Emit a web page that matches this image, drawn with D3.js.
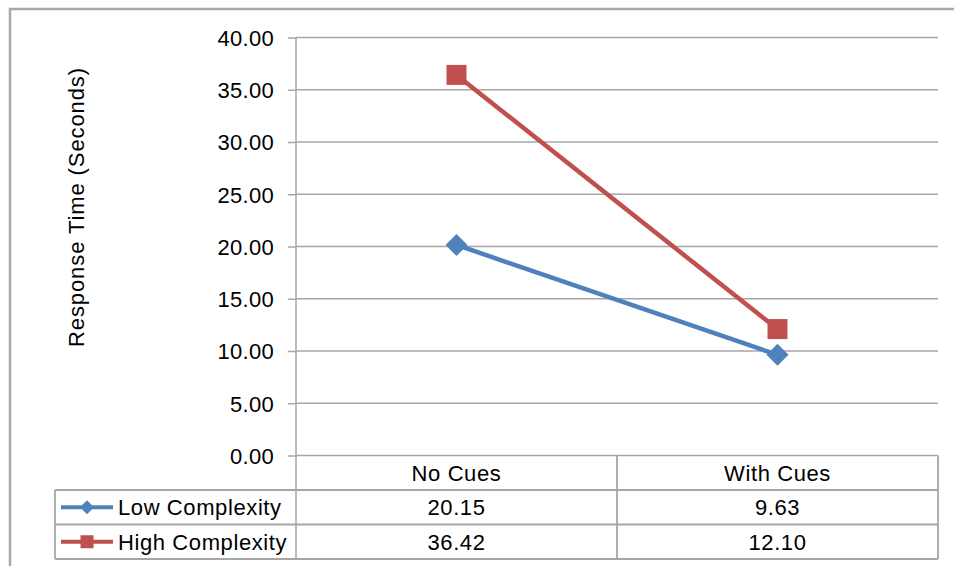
<!DOCTYPE html>
<html>
<head>
<meta charset="utf-8">
<script src="https://cdn.jsdelivr.net/npm/d3@7"></script>
<style>
  html, body { margin: 0; padding: 0; background: #fff; }
  svg { display: block; font-family: "Liberation Sans", Arial, sans-serif; }
  svg text { letter-spacing: 0.6px; }
</style>
</head>
<body>
<svg id="chart" width="954" height="566"></svg>
<script>
// Response times by cue condition and task complexity
const categories = ["No Cues", "With Cues"];
const seriesNames = ["Low Complexity", "High Complexity"];
const lowComplexity = [20.15, 9.63];
const highComplexity = [36.42, 12.10];
const yTicks = [0, 5, 10, 15, 20, 25, 30, 35, 40];
const yTitle = "Response Time (Seconds)";

const series = [
  { name: seriesNames[0], values: lowComplexity, color: "#4f81bd", shape: "diamond" },
  { name: seriesNames[1], values: highComplexity, color: "#c0504d", shape: "square" }
];

const svg = d3.select("#chart");
const gridColor = "#a6a6a6";
const fontSize = 22;

// Outer chart frame (extends past the visible window on right/bottom)
svg.append("rect")
  .attr("x", 10).attr("y", 9)
  .attr("width", 960).attr("height", 580)
  .attr("fill", "none").attr("stroke", "#a8a8a8").attr("stroke-width", 2.5);

const plotLeft = 296, plotRight = 938, plotTop = 37.5, plotBottom = 455.5;
const rowH = 34.5;
const legendLeft = 55;

const x = d3.scaleBand().domain(categories).range([plotLeft, plotRight]).padding(0);
const y = d3.scaleLinear().domain([0, 40]).range([plotBottom, plotTop]);

// Horizontal gridlines
svg.append("g").selectAll("line")
  .data(yTicks.filter(t => t > 0))
  .join("line")
  .attr("x1", plotLeft).attr("x2", plotRight)
  .attr("y1", d => y(d)).attr("y2", d => y(d))
  .attr("stroke", gridColor).attr("stroke-width", 1.5);

// Y axis
const yAxis = d3.axisLeft(y)
  .tickValues(yTicks)
  .tickFormat(d3.format(".2f"))
  .tickSize(8)
  .tickPadding(14);
const gy = svg.append("g").attr("transform", `translate(${plotLeft},0)`).call(yAxis);
gy.select(".domain").remove();
gy.selectAll(".tick line").attr("stroke", gridColor).attr("stroke-width", 1.5);
gy.selectAll(".tick text")
  .attr("fill", "#000")
  .style("font-size", fontSize + "px")
  .style("font-family", "Liberation Sans, Arial, sans-serif")
  .style("letter-spacing", "0.3px")
  .attr("dy", "0.36em");

// Axis baseline and vertical axis line, continuing into the data table
svg.append("line")
  .attr("x1", plotLeft).attr("x2", plotRight)
  .attr("y1", y(0)).attr("y2", y(0))
  .attr("stroke", gridColor).attr("stroke-width", 1.5);
svg.append("line")
  .attr("x1", plotLeft).attr("x2", plotLeft)
  .attr("y1", plotTop).attr("y2", plotBottom + rowH * 3)
  .attr("stroke", gridColor).attr("stroke-width", 1.5);

// Y title
svg.append("text")
  .attr("transform", `translate(84,207) rotate(-90)`)
  .attr("text-anchor", "middle")
  .attr("fill", "#000")
  .style("font-size", fontSize + "px")
  .style("letter-spacing", "0.9px")
  .text(yTitle);

// Data table grid
const table = svg.append("g");
const tableBottom = plotBottom + rowH * 3;
[1, 2, 3].forEach(i => {
  table.append("line")
    .attr("x1", legendLeft).attr("x2", plotRight)
    .attr("y1", plotBottom + rowH * i).attr("y2", plotBottom + rowH * i)
    .attr("stroke", gridColor).attr("stroke-width", 1.8);
});
table.append("line")
  .attr("x1", legendLeft).attr("x2", legendLeft)
  .attr("y1", plotBottom + rowH).attr("y2", tableBottom)
  .attr("stroke", gridColor).attr("stroke-width", 1.8);
categories.forEach(c => {
  table.append("line")
    .attr("x1", x(c) + x.bandwidth()).attr("x2", x(c) + x.bandwidth())
    .attr("y1", plotBottom).attr("y2", tableBottom)
    .attr("stroke", gridColor).attr("stroke-width", 1.8);
});

// Category header row
table.selectAll("text.cat")
  .data(categories)
  .join("text")
  .attr("class", "cat")
  .attr("x", d => x(d) + x.bandwidth() / 2)
  .attr("y", plotBottom + rowH / 2)
  .attr("dy", "0.36em")
  .attr("text-anchor", "middle")
  .attr("fill", "#000")
  .style("font-size", fontSize + "px")
  .text(d => d);

// Marker path generator
function markerPath(shape, size) {
  const h = size / 2;
  if (shape === "diamond") return `M0,${-h}L${h},0L0,${h}L${-h},0Z`;
  return `M${-h},${-h}H${h}V${h}H${-h}Z`;
}

// Value rows with legend keys
series.forEach((s, i) => {
  const cy = plotBottom + rowH * (i + 1) + rowH / 2;
  table.append("line")
    .attr("x1", 61).attr("x2", 113)
    .attr("y1", cy).attr("y2", cy)
    .attr("stroke", s.color).attr("stroke-width", 4);
  table.append("path")
    .attr("transform", `translate(87,${cy})`)
    .attr("d", markerPath(s.shape, s.shape === "diamond" ? 14 : 13))
    .attr("fill", s.color);
  table.append("text")
    .attr("x", 118).attr("y", cy).attr("dy", "0.36em")
    .attr("fill", "#000")
    .style("font-size", fontSize + "px")
    .text(s.name);
  table.selectAll(null)
    .data(s.values)
    .join("text")
    .attr("x", (d, j) => x(categories[j]) + x.bandwidth() / 2)
    .attr("y", cy).attr("dy", "0.36em")
    .attr("text-anchor", "middle")
    .attr("fill", "#000")
    .style("font-size", fontSize + "px")
    .text(d => d3.format(".2f")(d));
});

// Series lines and markers
const line = d3.line()
  .x((d, j) => x(categories[j]) + x.bandwidth() / 2)
  .y(d => y(d));

series.forEach(s => {
  svg.append("path")
    .datum(s.values)
    .attr("d", line)
    .attr("fill", "none")
    .attr("stroke", s.color)
    .attr("stroke-width", 4.5)
    .attr("stroke-linejoin", "round");
  svg.append("g").selectAll("path")
    .data(s.values)
    .join("path")
    .attr("transform", (d, j) => `translate(${x(categories[j]) + x.bandwidth() / 2},${y(d)})`)
    .attr("d", markerPath(s.shape, s.shape === "diamond" ? 22 : 20))
    .attr("fill", s.color);
});
</script>
</body>
</html>
